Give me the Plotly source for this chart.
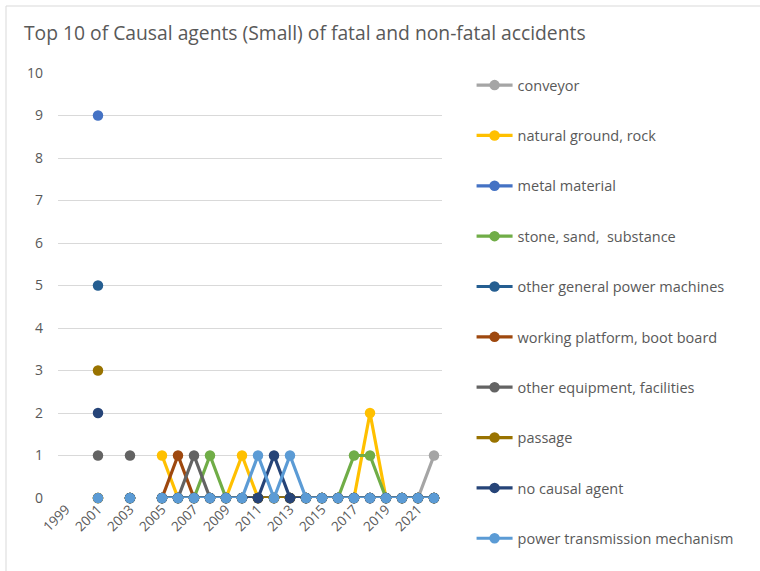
import plotly.graph_objects as go

years = list(range(1999, 2023))
tick_years = [1999, 2001, 2003, 2005, 2007, 2009, 2011, 2013, 2015, 2017, 2019, 2021]

#            1999  2000  2001  2002  2003  2004  2005 2006 2007 2008 2009 2010 2011 2012 2013 2014 2015 2016 2017 2018 2019 2020 2021 2022
conveyor = [None, None, 0, None, 0, None, 0, 0, 0, 0, 0, 0, 0, 0, 0, 0, 0, 0, 0, 0, 0, 0, 0, 1]
natural_ground = [None, None, 0, None, 0, None, 1, 0, 0, 0, 0, 1, 0, 0, 0, 0, 0, 0, 0, 2, 0, 0, 0, 0]
metal_material = [None, None, 9, None, 0, None, 0, 0, 0, 0, 0, 0, 0, 0, 0, 0, 0, 0, 0, 0, 0, 0, 0, 0]
stone_sand = [None, None, 0, None, 0, None, 0, 0, 0, 1, 0, 0, 0, 0, 0, 0, 0, 0, 1, 1, 0, 0, 0, 0]
other_power = [None, None, 5, None, 0, None, 0, 0, 0, 0, 0, 0, 0, 0, 0, 0, 0, 0, 0, 0, 0, 0, 0, 0]
working_platform = [None, None, 0, None, 0, None, 0, 1, 0, 0, 0, 0, 0, 0, 0, 0, 0, 0, 0, 0, 0, 0, 0, 0]
other_equipment = [None, None, 1, None, 1, None, 0, 0, 1, 0, 0, 0, 0, 0, 0, 0, 0, 0, 0, 0, 0, 0, 0, 0]
passage = [None, None, 3, None, 0, None, 0, 0, 0, 0, 0, 0, 0, 0, 0, 0, 0, 0, 0, 0, 0, 0, 0, 0]
no_agent = [None, None, 2, None, 0, None, 0, 0, 0, 0, 0, 0, 0, 1, 0, 0, 0, 0, 0, 0, 0, 0, 0, 0]
power_trans = [None, None, 0, None, 0, None, 0, 0, 0, 0, 0, 0, 1, 0, 1, 0, 0, 0, 0, 0, 0, 0, 0, 0]

series = [
    ("conveyor", conveyor, "#A5A5A5"),
    ("natural ground, rock", natural_ground, "#FFC000"),
    ("metal material", metal_material, "#4472C4"),
    ("stone, sand,  substance", stone_sand, "#70AD47"),
    ("other general power machines", other_power, "#255E91"),
    ("working platform, boot board", working_platform, "#9E480E"),
    ("other equipment, facilities", other_equipment, "#636363"),
    ("passage", passage, "#997300"),
    ("no causal agent", no_agent, "#264478"),
    ("power transmission mechanism", power_trans, "#5B9BD5"),
]

FONT = "'Open Sans', sans-serif"
TXT = "#595959"

fig = go.Figure()
for name, vals, col in series:
    fig.add_trace(go.Scatter(
        x=years, y=vals, name=name, mode="lines+markers",
        line=dict(color=col, width=3.2),
        marker=dict(color=col, size=10.5),
        connectgaps=False, cliponaxis=False,
        legendgroup=name,
    ))

fig.update_layout(
    width=760, height=571,
    margin=dict(l=58, r=318, t=73, b=73),
    paper_bgcolor="white", plot_bgcolor="white",
    font=dict(family=FONT, color=TXT, size=14),
    title=dict(text="Top 10 of Causal agents (Small) of fatal and non-fatal accidents",
               x=24 / 760, xanchor="left", y=1 - 33 / 571, yanchor="middle",
               font=dict(size=19.3, color=TXT, family=FONT)),
    showlegend=True,
    legend=dict(x=1.077, y=1.009, xanchor="left", yanchor="top",
                tracegroupgap=28.5, itemwidth=36,
                font=dict(size=14.5, color=TXT, family=FONT),
                bgcolor="rgba(0,0,0,0)", maxheight=560),
    xaxis=dict(range=[1998.5, 2022.5], tickvals=tick_years,
               ticktext=[str(t) for t in tick_years], tickangle=-45,
               showgrid=False, zeroline=False, showline=False,
               tickfont=dict(size=13.5, color=TXT), ticks=""),
    yaxis=dict(range=[0, 10], dtick=1, tick0=0, showgrid=True,
               gridcolor="#D9D9D9", gridwidth=1, zeroline=False,
               showline=False, tickfont=dict(size=14, color=TXT),
               ticks="", ticklabelstandoff=14),
)

fig.add_shape(type="line", xref="paper", yref="paper",
              x0=(6 - 58) / 384, x1=(760 - 58) / 384,
              y0=(498 - 6) / 425, y1=(498 - 6) / 425,
              line=dict(color="#D9D9D9", width=1))
fig.add_shape(type="line", xref="paper", yref="paper",
              x0=(6 - 58) / 384, x1=(6 - 58) / 384,
              y0=(498 - 6) / 425, y1=(498 - 571) / 425,
              line=dict(color="#D9D9D9", width=1))

fig.write_html("out.html", config={"displayModeBar": False},
               post_script="document.body.style.margin='0';document.body.style.overflow='hidden';")
